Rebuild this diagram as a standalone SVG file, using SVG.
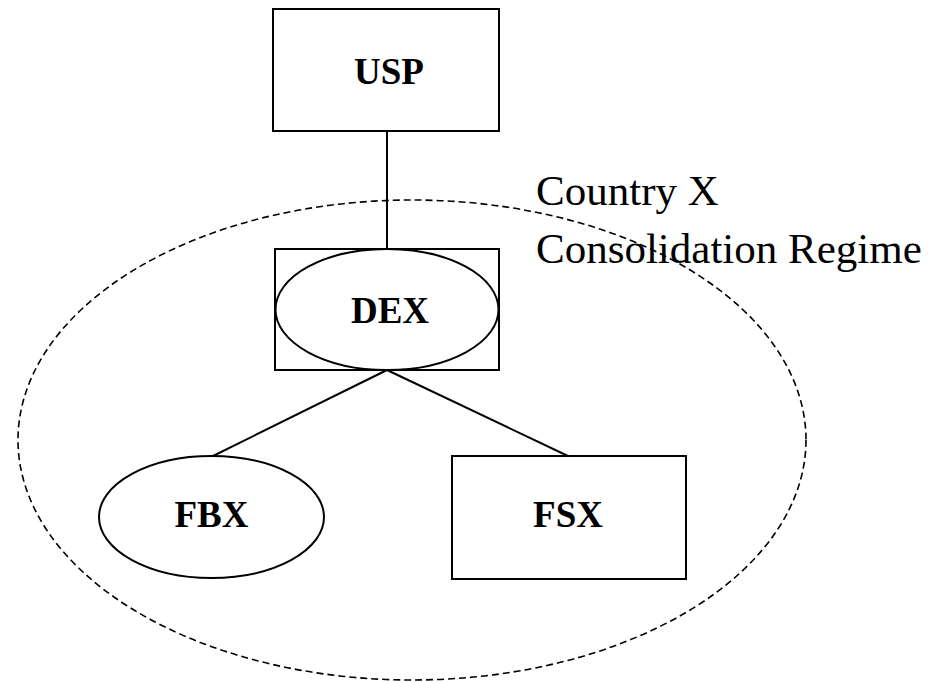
<svg xmlns="http://www.w3.org/2000/svg" width="936" height="682" viewBox="0 0 936 682">
<style>
.box{fill:none;stroke:#000;stroke-width:2}
.lbl{font-family:"Liberation Serif","Times New Roman",serif;font-weight:bold;font-size:37px;text-anchor:middle;fill:#000}
.note{font-family:"Liberation Serif","Times New Roman",serif;font-size:43px;fill:#000}
.conn{stroke:#000;stroke-width:2;fill:none}
</style>
<rect width="936" height="682" fill="#fff"/>
<g id="regime">
<ellipse cx="412" cy="440" rx="394" ry="240" fill="none" stroke="#000" stroke-width="1.6" stroke-dasharray="7 4"/>
<text class="note" x="536" y="205">Country X</text>
<text class="note" x="536" y="263">Consolidation Regime</text>
</g>
<g id="connectors">
<line class="conn" x1="387" y1="131" x2="387" y2="249"/>
<line class="conn" x1="387" y1="370" x2="213" y2="456"/>
<line class="conn" x1="387" y1="370" x2="568" y2="456"/>
</g>
<g id="USP">
<rect class="box" x="273" y="9" width="226" height="122" fill="#fff"/>
<text class="lbl" x="389" y="84">USP</text>
</g>
<g id="DEX">
<rect class="box" x="275" y="249" width="224" height="121"/>
<ellipse class="box" cx="387" cy="309.5" rx="111.5" ry="60.5"/>
<text class="lbl" x="390" y="323">DEX</text>
</g>
<g id="FBX">
<ellipse class="box" cx="211.5" cy="517" rx="112.5" ry="61"/>
<text class="lbl" x="211.5" y="527">FBX</text>
</g>
<g id="FSX">
<rect class="box" x="452" y="456" width="234" height="123"/>
<text class="lbl" x="568" y="527">FSX</text>
</g>
</svg>
